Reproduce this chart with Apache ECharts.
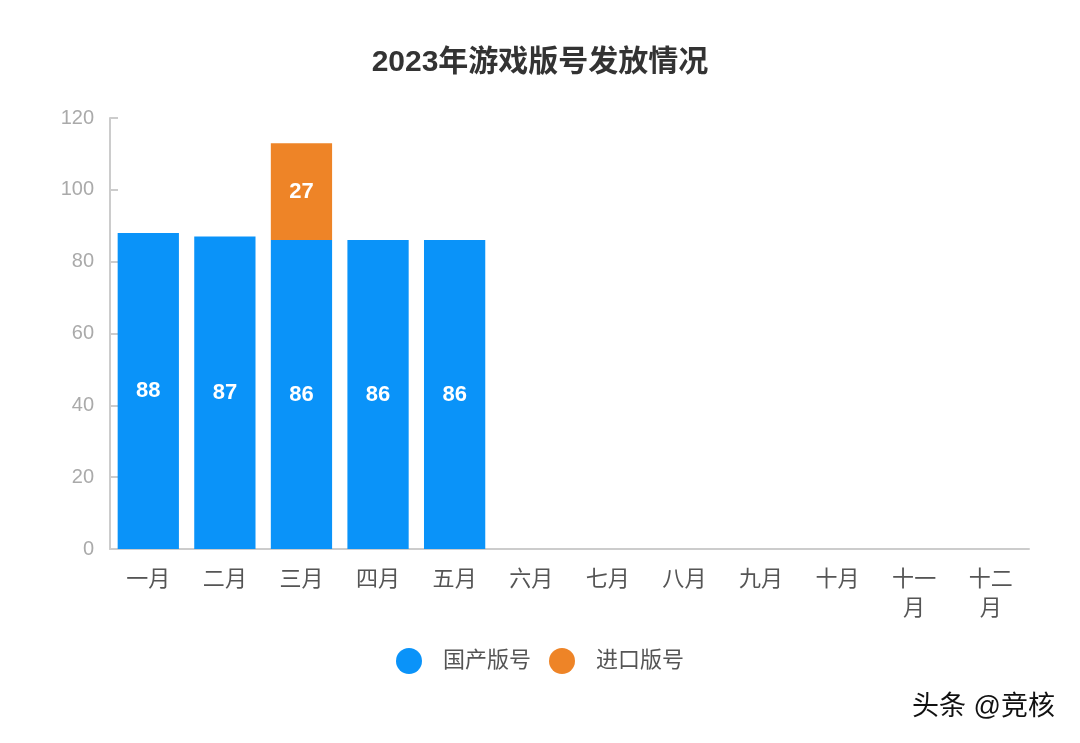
<!DOCTYPE html>
<html><head><meta charset="utf-8">
<script src="https://cdn.jsdelivr.net/npm/echarts@6/dist/echarts.min.js"></script>
<style>html,body{margin:0;padding:0;background:#fff}#c{width:1080px;height:743px}</style>
</head><body><div id="c"></div>
<script>
var categories = ['一月','二月','三月','四月','五月','六月','七月','八月','九月','十月','十一月','十二月'];
var domestic = [88, 87, 86, 86, 86, null, null, null, null, null, null, null];
var imported = [null, null, 27, null, null, null, null, null, null, null, null, null];
var yTicks = [0, 20, 40, 60, 80, 100, 120];

var chart = echarts.init(document.getElementById('c'));
var font = '"Liberation Sans", "Noto Sans CJK SC", sans-serif';
chart.setOption({
  animation: false,
  textStyle: {fontFamily: font},
  title: {text: '2023年游戏版号发放情况', left: 'center', top: 43,
    textStyle: {fontSize: 30, fontWeight: 'bold', color: '#333', fontFamily: font}},
  legend: {bottom: 64, left: 'center', icon: 'circle', itemWidth: 26, itemHeight: 26, itemGap: 18,
    textStyle: {fontSize: 22, color: '#555', fontFamily: font, padding: [0, 0, 0, 16]}},
  grid: {left: 110, right: 51, top: 118, bottom: 194},
  xAxis: {type: 'category', data: categories,
    axisLine: {lineStyle: {color: '#ccc', width: 2}},
    axisTick: {inside: true, length: 8, lineStyle: {color: '#ccc', width: 2}},
    axisLabel: {fontSize: 22, color: '#555', margin: 16, lineHeight: 29,
      formatter: function (v) { return v.length > 2 ? v.slice(0, 2) + '\n' + v.slice(2) : v; }}},
  yAxis: {type: 'value', min: yTicks[0], max: yTicks[yTicks.length - 1], interval: 20,
    axisLine: {show: true, lineStyle: {color: '#ccc', width: 2}},
    axisTick: {show: true, inside: true, length: 8, lineStyle: {color: '#ccc', width: 2}},
    splitLine: {show: false},
    axisLabel: {fontSize: 20, color: '#aaa', margin: 16}},
  series: [
    {name: '国产版号', type: 'bar', stack: 'a', data: domestic, barCategoryGap: '20%',
      itemStyle: {color: '#0A93F9'},
      label: {show: true, position: 'inside', color: '#fff', fontSize: 22, fontWeight: 'bold'}},
    {name: '进口版号', type: 'bar', stack: 'a', data: imported,
      itemStyle: {color: '#EE8427'},
      label: {show: true, position: 'inside', color: '#fff', fontSize: 22, fontWeight: 'bold'}}
  ],
  graphic: [{type: 'text', right: 25, top: 694,
    style: {text: '头条 @竞核', fontSize: 27, fill: '#111', fontFamily: font}}]
});
</script></body></html>
